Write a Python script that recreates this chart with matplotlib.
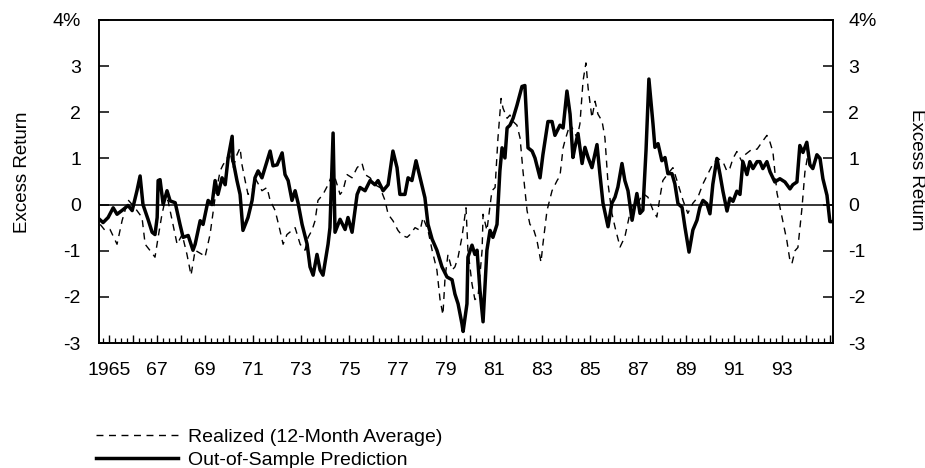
import matplotlib
matplotlib.use('Agg')
import matplotlib.pyplot as plt
from matplotlib.ticker import FixedLocator, FixedFormatter

plt.rcParams['font.family'] = ['Liberation Sans', 'DejaVu Sans']

# ---------------- data ----------------
pred_years = [1964.6, 1964.75, 1964.96, 1965.17, 1965.33, 1965.58, 1965.79, 1965.96, 1966.16, 1966.29,
              1966.41, 1966.62, 1966.79, 1966.91, 1967.0, 1967.04, 1967.12, 1967.25, 1967.41, 1967.54,
              1967.75, 1967.95, 1968.08, 1968.29, 1968.49, 1968.58, 1968.79, 1968.91, 1969.12, 1969.28,
              1969.41, 1969.53, 1969.70, 1969.83, 1969.95, 1970.12, 1970.16, 1970.32, 1970.45, 1970.57,
              1970.78, 1970.95, 1971.07, 1971.20, 1971.36, 1971.49, 1971.70, 1971.82, 1971.99, 1972.20,
              1972.32, 1972.45, 1972.61, 1972.74, 1972.86, 1973.03, 1973.24, 1973.36, 1973.49, 1973.65,
              1973.78, 1973.90, 1974.11, 1974.19, 1974.32, 1974.40, 1974.61, 1974.82, 1974.94, 1975.11,
              1975.32, 1975.44, 1975.65, 1975.86, 1976.06, 1976.19, 1976.40, 1976.61, 1976.81, 1976.98,
              1977.10, 1977.31, 1977.44, 1977.60, 1977.77, 1977.94, 1978.14, 1978.27, 1978.44, 1978.64,
              1978.85, 1979.06, 1979.27, 1979.39, 1979.52, 1979.68, 1979.73, 1979.89, 1979.93, 1980.10,
              1980.22, 1980.31, 1980.43, 1980.56, 1980.72, 1980.85, 1980.97, 1981.14, 1981.26, 1981.35,
              1981.47, 1981.56, 1981.68, 1981.81, 1981.97, 1982.18, 1982.30, 1982.43, 1982.60, 1982.72,
              1982.93, 1983.05, 1983.26, 1983.43, 1983.55, 1983.76, 1983.89, 1984.05, 1984.18, 1984.30,
              1984.38, 1984.51, 1984.68, 1984.80, 1984.93, 1985.09, 1985.30, 1985.42, 1985.55, 1985.76,
              1985.92, 1986.05, 1986.17, 1986.34, 1986.46, 1986.59, 1986.76, 1986.96, 1987.09, 1987.21,
              1987.34, 1987.46, 1987.63, 1987.71, 1987.84, 1988.00, 1988.13, 1988.25, 1988.42, 1988.54,
              1988.67, 1988.84, 1988.96, 1989.13, 1989.29, 1989.46, 1989.58, 1989.71, 1989.87, 1990.00,
              1990.12, 1990.29, 1990.42, 1990.54, 1990.71, 1990.83, 1990.96, 1991.12, 1991.25, 1991.37,
              1991.54, 1991.66, 1991.79, 1991.96, 1992.08, 1992.20, 1992.37, 1992.50, 1992.70, 1992.91,
              1993.12, 1993.33, 1993.45, 1993.62, 1993.74, 1993.87, 1994.03, 1994.16, 1994.28, 1994.45,
              1994.58, 1994.70, 1994.87, 1994.99, 1995.12]
pred_values = [-0.32, -0.39, -0.28, -0.07, -0.21, -0.11, -0.02, -0.13, 0.30, 0.62,
               0.0, -0.32, -0.60, -0.65, -0.28, 0.52, 0.54, 0.0, 0.30, 0.08,
               0.04, -0.43, -0.71, -0.67, -0.99, -0.86, -0.35, -0.43, 0.09, 0.0,
               0.52, 0.22, 0.58, 0.43, 1.0, 1.48, 0.95, 0.52, 0.22, -0.56,
               -0.28, 0.09, 0.58, 0.73, 0.58, 0.80, 1.16, 0.84, 0.86, 1.12,
               0.65, 0.52, 0.09, 0.30, 0.04, -0.43, -0.86, -1.35, -1.53, -1.08,
               -1.42, -1.53, -0.86, -0.50, 1.55, -0.60, -0.32, -0.54, -0.28, -0.60,
               0.22, 0.37, 0.30, 0.52, 0.43, 0.52, 0.30, 0.43, 1.16, 0.80,
               0.22, 0.22, 0.58, 0.52, 0.95, 0.58, 0.15, -0.43, -0.75, -0.99,
               -1.35, -1.57, -1.63, -1.94, -2.15, -2.58, -2.75, -2.15, -1.14, -0.88,
               -1.08, -0.99, -1.85, -2.54, -0.99, -0.56, -0.71, -0.43, 0.73, 1.23,
               1.01, 1.66, 1.72, 1.87, 2.15, 2.56, 2.58, 1.23, 1.16, 1.01,
               0.58, 1.08, 1.80, 1.80, 1.50, 1.72, 1.66, 2.46, 1.96, 1.02,
               1.24, 1.54, 0.89, 1.24, 1.02, 0.80, 1.30, 0.67, 0.03, -0.48,
               0.03, 0.16, 0.38, 0.89, 0.52, 0.30, -0.34, 0.24, -0.19, -0.12,
               1.17, 2.72, 1.75, 1.24, 1.32, 0.95, 1.02, 0.67, 0.67, 0.45,
               0.02, -0.06, -0.49, -1.03, -0.55, -0.34, -0.06, 0.09, 0.02, -0.20,
               0.44, 1.00, 0.65, 0.29, -0.14, 0.14, 0.07, 0.29, 0.22, 0.93,
               0.65, 0.93, 0.78, 0.93, 0.93, 0.78, 0.93, 0.71, 0.49, 0.56,
               0.49, 0.34, 0.43, 0.49, 1.28, 1.13, 1.35, 0.86, 0.78, 1.08,
               1.00, 0.56, 0.20, -0.37, -0.37]

real_years = [1964.63, 1964.83, 1965.04, 1965.33, 1965.54, 1965.79, 1965.96, 1966.16, 1966.37, 1966.50,
              1966.71, 1966.91, 1967.04, 1967.20, 1967.33, 1967.45, 1967.66, 1967.83, 1968.04, 1968.24,
              1968.41, 1968.58, 1968.87, 1968.99, 1969.20, 1969.41, 1969.62, 1969.74, 1969.91, 1970.03,
              1970.16, 1970.32, 1970.45, 1970.53, 1970.66, 1970.78, 1970.95, 1971.07, 1971.36, 1971.57,
              1971.70, 1971.91, 1972.11, 1972.24, 1972.40, 1972.61, 1972.74, 1972.95, 1973.15, 1973.28,
              1973.44, 1973.57, 1973.69, 1973.90, 1974.11, 1974.28, 1974.40, 1974.61, 1974.73, 1974.90,
              1975.11, 1975.32, 1975.52, 1975.65, 1975.86, 1976.06, 1976.27, 1976.48, 1976.61, 1976.81,
              1977.02, 1977.19, 1977.40, 1977.52, 1977.73, 1977.94, 1978.06, 1978.27, 1978.44, 1978.64,
              1978.77, 1978.89, 1978.98, 1979.10, 1979.27, 1979.39, 1979.52, 1979.68, 1979.85, 1979.93,
              1980.10, 1980.22, 1980.35, 1980.52, 1980.56, 1980.72, 1980.93, 1981.06, 1981.18, 1981.31,
              1981.39, 1981.56, 1981.68, 1981.81, 1981.97, 1982.10, 1982.22, 1982.39, 1982.51, 1982.64,
              1982.80, 1982.97, 1983.05, 1983.22, 1983.43, 1983.64, 1983.76, 1983.89, 1983.97, 1984.18,
              1984.47, 1984.59, 1984.72, 1984.84, 1984.93, 1985.09, 1985.22, 1985.34, 1985.51, 1985.63,
              1985.76, 1985.92, 1986.05, 1986.26, 1986.46, 1986.67, 1986.80, 1987.00, 1987.21, 1987.42,
              1987.63, 1987.79, 1987.92, 1988.04, 1988.25, 1988.46, 1988.67, 1988.88, 1989.08, 1989.29,
              1989.50, 1989.71, 1989.92, 1990.12, 1990.33, 1990.54, 1990.71, 1990.83, 1990.96, 1991.12,
              1991.33, 1991.46, 1991.75, 1991.96, 1992.16, 1992.37, 1992.50, 1992.62, 1992.79, 1993.00,
              1993.20, 1993.33, 1993.41, 1993.54, 1993.66, 1993.83, 1993.95, 1994.08]
real_values = [-0.43, -0.56, -0.54, -0.86, -0.35, 0.10, 0.0, -0.13, -0.28, -0.86,
               -1.00, -1.14, -0.71, -0.21, 0.09, 0.09, -0.43, -0.86, -0.65, -1.08,
               -1.53, -0.99, -1.08, -1.14, -0.65, 0.15, 0.73, 0.86, 1.00, 1.16,
               0.80, 1.08, 1.23, 0.86, 0.52, 0.22, 0.30, 0.58, 0.30, 0.37,
               0.09, -0.13, -0.56, -0.86, -0.65, -0.56, -0.50, -0.86, -0.99, -0.71,
               -0.56, -0.35, 0.09, 0.22, 0.43, 0.65, 0.58, 0.22, 0.30, 0.65,
               0.58, 0.80, 0.90, 0.65, 0.58, 0.43, 0.37, 0.09, -0.21, -0.35,
               -0.56, -0.67, -0.71, -0.65, -0.50, -0.56, -0.28, -0.56, -0.99, -1.42,
               -2.06, -2.39, -1.57, -1.08, -1.42, -1.35, -1.14, -0.71, -0.07, -0.99,
               -1.72, -2.06, -2.00, -0.99, -0.21, -0.56, 0.30, 0.37, 1.44, 2.30,
               2.09, 1.87, 1.94, 1.80, 1.72, 1.44, 0.73, -0.13, -0.43, -0.50,
               -0.77, -1.25, -0.86, -0.13, 0.30, 0.52, 0.62, 1.23, 1.39, 1.75,
               1.45, 1.75, 2.68, 3.07, 2.53, 1.88, 2.24, 1.96, 1.81, 1.45,
               0.45, -0.19, -0.49, -0.92, -0.70, -0.19, 0.03, 0.03, 0.24, 0.16,
               -0.12, -0.27, 0.16, 0.52, 0.67, 0.80, 0.45, 0.09, -0.19, 0.03,
               0.16, 0.45, 0.67, 0.88, 1.00, 0.93, 0.72, 0.79, 1.00, 1.15,
               0.93, 1.08, 1.20, 1.20, 1.35, 1.50, 1.35, 1.14, 0.25, -0.28,
               -0.78, -1.22, -1.28, -1.00, -0.93, -0.07, 0.70, 1.10]

year_ticks = list(range(1965, 1996))
year_labels = ['1965' if y == 1965 else (f'{y % 100:02d}' if (y % 2 == 1 and y <= 1993) else '')
               for y in year_ticks]
quarter_ticks = [1964.75 + 0.25 * i for i in range(122)]
y_ticks = [-3, -2, -1, 0, 1, 2, 3, 4]
y_labels = ['-3', '-2', '-1', '0', '1', '2', '3', '4%']
legend_labels = ['Realized (12-Month Average)', 'Out-of-Sample Prediction']
axis_label = 'Excess Return'

# ---------------- figure ----------------
W, H = 925, 468
fig = plt.figure(figsize=(W / 100, H / 100), dpi=100)
L, R, T, B = 99, 833, 20, 343
ax = fig.add_axes([L / W, 1 - B / H, (R - L) / W, (B - T) / H])

ax.axhline(0, color='black', lw=1.1, zorder=1)
l_real, = ax.plot(real_years, real_values, color='black', lw=1.0,
                  ls=(0, (5, 4)), label=legend_labels[0], zorder=2)
l_pred, = ax.plot(pred_years, pred_values, color='black', lw=2.5,
                  solid_joinstyle='round', label=legend_labels[1], zorder=3)

ax.set_xlim(1964.58, 1995.12)
ax.set_ylim(-3, 4)

for s in ax.spines.values():
    s.set_linewidth(1.2)

fs = 14
ax.xaxis.set_major_locator(FixedLocator(year_ticks))
ax.xaxis.set_major_formatter(FixedFormatter(year_labels))
ax.xaxis.set_minor_locator(FixedLocator(quarter_ticks))
ax.tick_params(axis='x', which='major', direction='in', length=6, width=1.0,
               pad=14, labelsize=fs)
ax.tick_params(axis='x', which='minor', direction='in', length=3.5, width=0.9)

ax.yaxis.set_major_locator(FixedLocator(y_ticks))
ax.yaxis.set_major_formatter(FixedFormatter(y_labels))
ax.tick_params(axis='y', which='major', direction='in', length=7.5, width=1.1,
               pad=13, labelsize=fs)

ax2 = ax.twinx()
ax2.set_ylim(-3, 4)
ax2.yaxis.set_major_locator(FixedLocator(y_ticks))
ax2.yaxis.set_major_formatter(FixedFormatter(y_labels))
ax2.tick_params(axis='y', which='major', direction='in', length=7.5, width=1.1,
                pad=11, labelsize=fs)
for s in ax2.spines.values():
    s.set_linewidth(1.2)

fig.text(23 / W, 1 - 172 / H, axis_label, rotation=90, ha='center', va='center', fontsize=13.5)
fig.text(916 / W, 1 - 170 / H, axis_label, rotation=-90, ha='center', va='center', fontsize=13.5)

fig.legend(handles=[l_real, l_pred], labels=legend_labels, loc='upper left',
           bbox_to_anchor=(96 / W, 1 - 428 / H), frameon=False, fontsize=fs,
           handlelength=4.2, handletextpad=0.55, labelspacing=0.3,
           borderpad=0, borderaxespad=0)

fig.savefig('out.png', dpi=100)
